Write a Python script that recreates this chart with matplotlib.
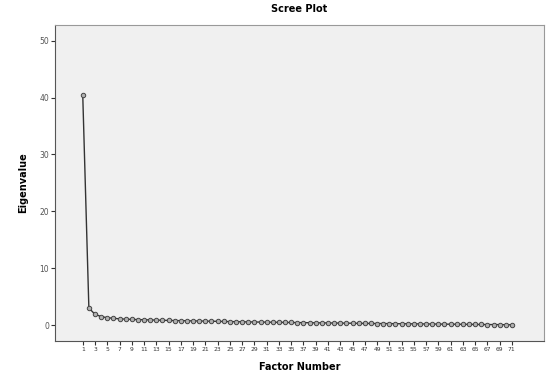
import numpy as np
import matplotlib.pyplot as plt

# eigenvalues
factors = list(range(1, 72))
eigenvalues = [40.5, 3.0, 1.9, 1.5, 1.3, 1.2, 1.1, 1.05, 1.0, 0.97,
               0.94, 0.91, 0.88, 0.85, 0.82, 0.80, 0.78, 0.76, 0.74, 0.72,
               0.70, 0.68, 0.66, 0.64, 0.62, 0.60, 0.58, 0.56, 0.55, 0.53,
               0.52, 0.50, 0.49, 0.47, 0.46, 0.44, 0.43, 0.42, 0.40, 0.39,
               0.38, 0.36, 0.35, 0.34, 0.33, 0.31, 0.30, 0.29, 0.28, 0.27,
               0.26, 0.25, 0.24, 0.23, 0.22, 0.21, 0.20, 0.19, 0.18, 0.17,
               0.16, 0.15, 0.14, 0.13, 0.12, 0.11, 0.10, 0.09, 0.08, 0.07,
               0.05]
x_ticks = list(range(1, 72, 2))
y_ticks = [0, 10, 20, 30, 40, 50]

fig = plt.figure(figsize=(5.46, 3.76), dpi=100)
ax = fig.add_axes([0.101, 0.093, 0.895, 0.841])
ax.set_facecolor('#f0f0f0')

ax.plot(factors, eigenvalues, color='#333333', linewidth=1.0,
        marker='o', markersize=3.2, markerfacecolor='#b0b0b0',
        markeredgecolor='#444444', markeredgewidth=0.7)

ax.set_xlim(-3.5, 76.2)
ax.set_ylim(-2.8, 52.8)
ax.set_xticks(x_ticks)
ax.set_xticklabels([str(t) for t in x_ticks], fontsize=4.3, color='#333333')
ax.set_yticks(y_ticks)
ax.set_yticklabels([str(t) for t in y_ticks], fontsize=5.5, color='#555555')
ax.tick_params(axis='both', length=3, width=0.8, color='#333333', pad=1.5)

for side in ['top', 'right']:
    ax.spines[side].set_color('#999999')
for side in ['left', 'bottom']:
    ax.spines[side].set_color('#555555')

ax.set_title('Scree Plot', fontsize=7, fontweight='bold', pad=9)
ax.set_xlabel('Factor Number', fontsize=7, fontweight='bold', labelpad=7)
ax.set_ylabel('Eigenvalue', fontsize=7, fontweight='bold', labelpad=8)

fig.savefig('out.png', dpi=100)
